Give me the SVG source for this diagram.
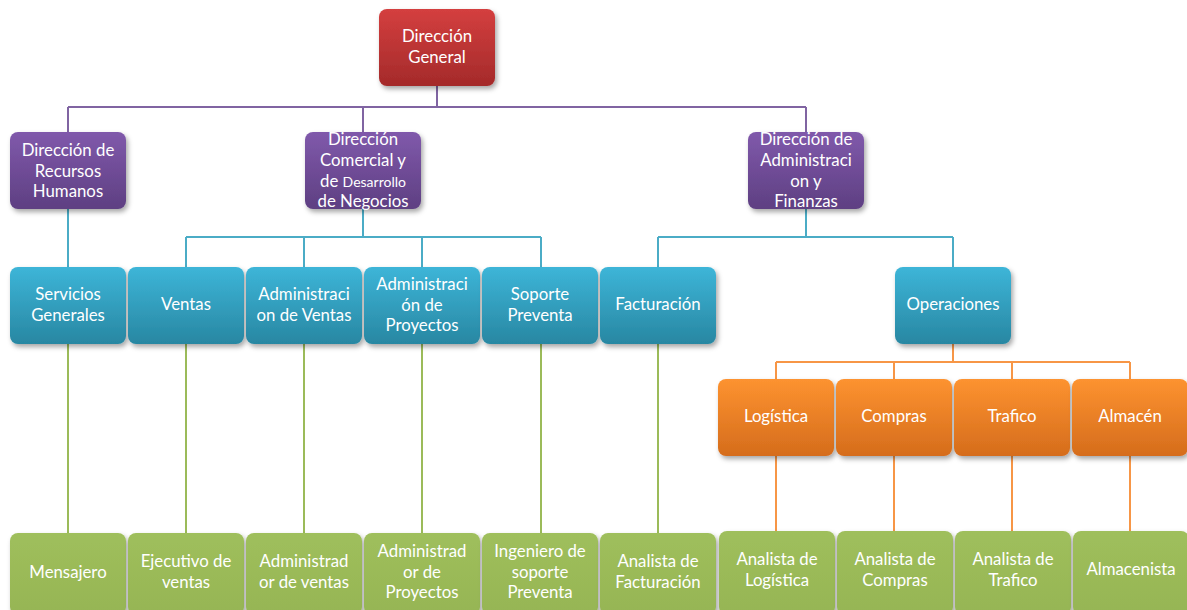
<svg xmlns="http://www.w3.org/2000/svg" width="1187" height="610" viewBox="0 0 1187 610">
<style>
text{font-family:Lato,"Open Sans","Liberation Sans",sans-serif;font-size:16.8px;fill:#fff;text-anchor:middle}
.sm{font-size:14px}
.c{fill:none;stroke-width:2}
.p{stroke:#8064a2}.t{stroke:#4bacc6}.o{stroke:#f79646}.g{stroke:#9bbb59}
rect{filter:url(#sh)}
</style>
<defs>
<filter id="sh" x="-20%" y="-20%" width="150%" height="150%"><feDropShadow dx="2" dy="3" stdDeviation="2.5" flood-color="#000" flood-opacity="0.35"/></filter>
<linearGradient id="gr" x1="0" y1="0" x2="0" y2="1"><stop offset="0" stop-color="#d43f3f"/><stop offset="1" stop-color="#a42a2a"/></linearGradient>
<linearGradient id="gp" x1="0" y1="0" x2="0" y2="1"><stop offset="0" stop-color="#8059ab"/><stop offset="1" stop-color="#5e3f82"/></linearGradient>
<linearGradient id="gt" x1="0" y1="0" x2="0" y2="1"><stop offset="0" stop-color="#3db5d8"/><stop offset="1" stop-color="#2887a2"/></linearGradient>
<linearGradient id="go" x1="0" y1="0" x2="0" y2="1"><stop offset="0" stop-color="#fd9330"/><stop offset="1" stop-color="#d56c1c"/></linearGradient>
<linearGradient id="gg" x1="0" y1="0" x2="0" y2="1"><stop offset="0" stop-color="#9fbf5c"/><stop offset="1" stop-color="#96b554"/></linearGradient>
</defs>
<g id="connectors">
<path class="c p" d="M437 86V107M68 107H806M68 107V132M363 107V132M806 107V132"/>
<path class="c t" d="M68 209V267M363 209V237M186 237H541M186 237V267M304 237V267M422 237V267M541 237V267"/>
<path class="c t" d="M806 209V237M658 237H953M658 237V267M953 237V267"/>
<path class="c o" d="M953 344V362M776 362H1130M776 362V379M894 362V379M1012 362V379M1130 362V379"/>
<path class="c g" d="M68 344V533M186 344V533M304 344V533M422 344V533M541 344V533M658 344V533"/>
<path class="c o" d="M776 456V531M894 456V531M1012 456V531M1130 456V531"/>
</g>
<g id="n-general"><rect x="379" y="9" width="116" height="77" rx="8" fill="url(#gr)"/><text x="437" y="42">Dirección</text><text x="437" y="63">General</text></g>
<g id="n-rh"><rect x="10" y="132" width="116" height="77" rx="8" fill="url(#gp)"/><text x="68" y="156">Dirección de</text><text x="68" y="177">Recursos</text><text x="68" y="197">Humanos</text></g>
<g id="n-comercial"><rect x="305" y="132" width="116" height="77" rx="8" fill="url(#gp)"/><text x="363" y="145">Dirección</text><text x="363" y="166">Comercial y</text><text x="363" y="187">de <tspan class="sm">Desarrollo</tspan></text><text x="363" y="207">de Negocios</text></g>
<g id="n-admin"><rect x="748" y="132" width="116" height="77" rx="8" fill="url(#gp)"/><text x="806" y="145">Dirección de</text><text x="806" y="166">Administraci</text><text x="806" y="187">on y</text><text x="806" y="207">Finanzas</text></g>
<g id="n-servicios"><rect x="10" y="267" width="116" height="77" rx="8" fill="url(#gt)"/><text x="68" y="300">Servicios</text><text x="68" y="321">Generales</text></g>
<g id="n-ventas"><rect x="128" y="267" width="116" height="77" rx="8" fill="url(#gt)"/><text x="186" y="310">Ventas</text></g>
<g id="n-admventas"><rect x="246" y="267" width="116" height="77" rx="8" fill="url(#gt)"/><text x="304" y="300">Administraci</text><text x="304" y="321">on de Ventas</text></g>
<g id="n-admproy"><rect x="364" y="267" width="116" height="77" rx="8" fill="url(#gt)"/><text x="422" y="290">Administraci</text><text x="422" y="311">ón de</text><text x="422" y="331">Proyectos</text></g>
<g id="n-soporte"><rect x="482" y="267" width="116" height="77" rx="8" fill="url(#gt)"/><text x="540" y="300">Soporte</text><text x="540" y="321">Preventa</text></g>
<g id="n-facturacion"><rect x="600" y="267" width="116" height="77" rx="8" fill="url(#gt)"/><text x="658" y="310">Facturación</text></g>
<g id="n-operaciones"><rect x="895" y="267" width="116" height="77" rx="8" fill="url(#gt)"/><text x="953" y="310">Operaciones</text></g>
<g id="n-logistica"><rect x="718" y="379" width="116" height="77" rx="8" fill="url(#go)"/><text x="776" y="422">Logística</text></g>
<g id="n-compras"><rect x="836" y="379" width="116" height="77" rx="8" fill="url(#go)"/><text x="894" y="422">Compras</text></g>
<g id="n-trafico"><rect x="954" y="379" width="116" height="77" rx="8" fill="url(#go)"/><text x="1012" y="422">Trafico</text></g>
<g id="n-almacen"><rect x="1072" y="379" width="116" height="77" rx="8" fill="url(#go)"/><text x="1130" y="422">Almacén</text></g>
<g id="n-mensajero"><rect x="10" y="533" width="116" height="82" rx="8" fill="url(#gg)"/><text x="68" y="578">Mensajero</text></g>
<g id="n-ejecutivo"><rect x="128" y="533" width="116" height="82" rx="8" fill="url(#gg)"/><text x="186" y="567">Ejecutivo de</text><text x="186" y="588">ventas</text></g>
<g id="n-admdeventas"><rect x="246" y="533" width="116" height="82" rx="8" fill="url(#gg)"/><text x="304" y="567">Administrad</text><text x="304" y="588">or de ventas</text></g>
<g id="n-admdeproy"><rect x="364" y="533" width="116" height="82" rx="8" fill="url(#gg)"/><text x="422" y="557">Administrad</text><text x="422" y="578">or de</text><text x="422" y="598">Proyectos</text></g>
<g id="n-ingeniero"><rect x="482" y="533" width="116" height="82" rx="8" fill="url(#gg)"/><text x="540" y="557">Ingeniero de</text><text x="540" y="578">soporte</text><text x="540" y="598">Preventa</text></g>
<g id="n-anfact"><rect x="600" y="533" width="116" height="82" rx="8" fill="url(#gg)"/><text x="658" y="567">Analista de</text><text x="658" y="588">Facturación</text></g>
<g id="n-anlog"><rect x="719" y="531" width="116" height="84" rx="8" fill="url(#gg)"/><text x="777" y="565">Analista de</text><text x="777" y="586">Logística</text></g>
<g id="n-ancomp"><rect x="837" y="531" width="116" height="84" rx="8" fill="url(#gg)"/><text x="895" y="565">Analista de</text><text x="895" y="586">Compras</text></g>
<g id="n-antraf"><rect x="955" y="531" width="116" height="84" rx="8" fill="url(#gg)"/><text x="1013" y="565">Analista de</text><text x="1013" y="586">Trafico</text></g>
<g id="n-almacenista"><rect x="1073" y="531" width="116" height="84" rx="8" fill="url(#gg)"/><text x="1131" y="575">Almacenista</text></g>
</svg>
